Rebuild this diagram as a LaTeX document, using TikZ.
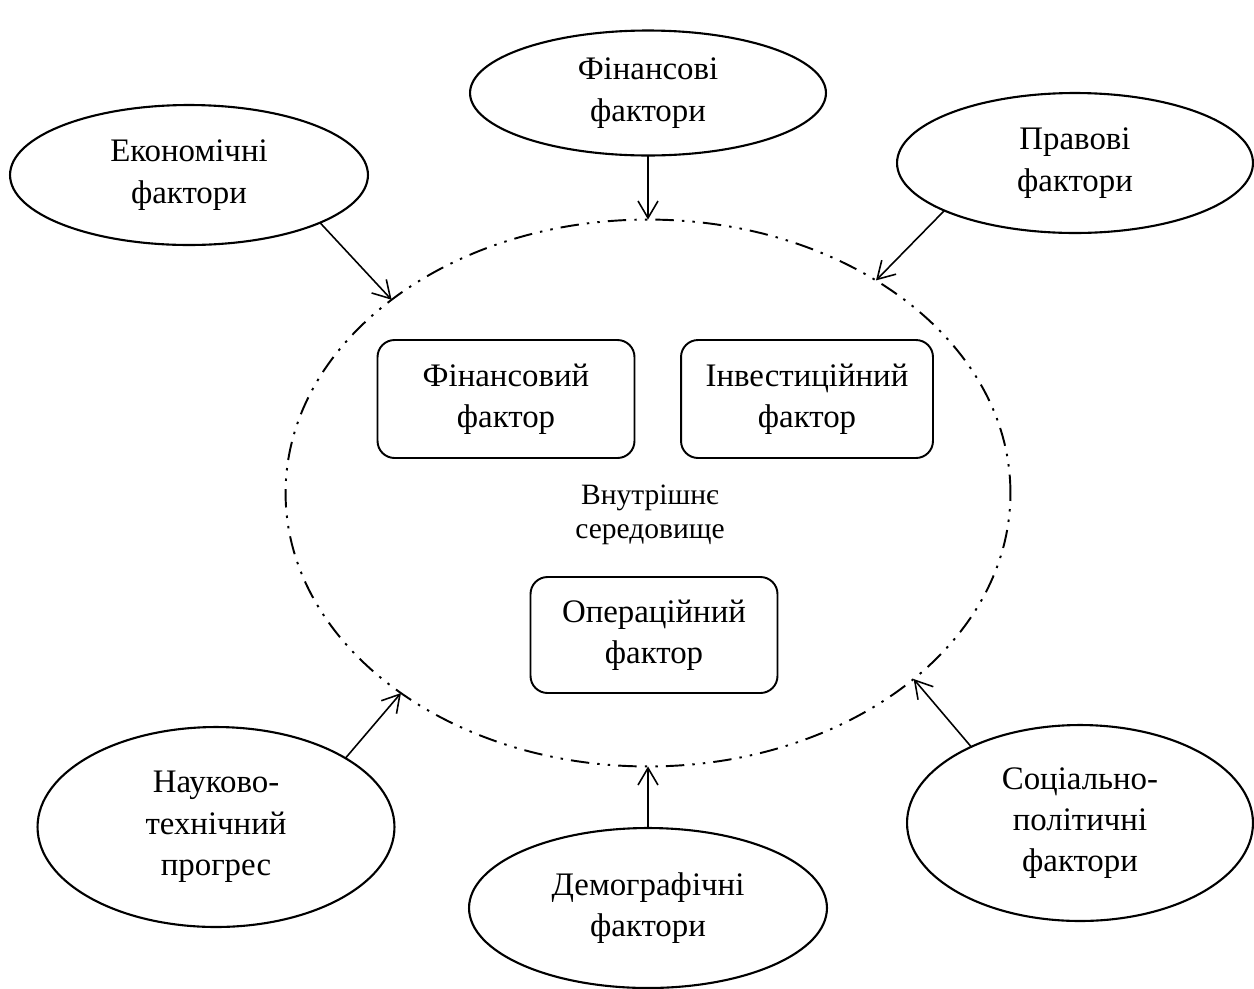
\documentclass[tikz,border=0pt]{standalone}
\usepackage{fontspec}
\setmainfont{Liberation Serif}
\usetikzlibrary{arrows.meta,shapes.geometric}
\tikzset{
  factor/.style={draw, ellipse, line width=1.2pt, inner sep=0pt, outer sep=0pt, align=center, font=\fontsize{18.7}{23.5}\selectfont},
  unit/.style={draw, rounded corners=0.34cm, line width=1.1pt, inner sep=0pt, outer sep=0pt, align=center, minimum height=2.36cm, font=\fontsize{18.7}{23.5}\selectfont},
  envline/.style={draw, ellipse, line width=1.1pt, inner sep=0pt, outer sep=0pt, dash pattern=on 10.5pt off 4.6pt on 1.4pt off 4.6pt on 1.4pt off 4.6pt},
  link/.style={->, line width=0.9pt}
}
\begin{document}
\begin{tikzpicture}[x=0.02cm, y=-0.02cm, >={Straight Barb[length=3.4mm,width=4mm]}]
  \useasboundingbox (0,0) rectangle (1254,988);
  % internal environment
  \node[envline, minimum width=14.5cm, minimum height=10.94cm] (inner) at (648,493) {};
  \node[align=center, font=\fontsize{16.8}{19.5}\selectfont] (env) at (650,515) {Внутрішнє\\середовище};
  \node[unit, minimum width=5.14cm] (finbox) at (506,399) {Фінансовий\\фактор};
  \node[unit, minimum width=5.04cm] (invbox) at (807,399) {Інвестиційний\\фактор};
  \node[unit, minimum width=4.94cm, minimum height=2.32cm] (opbox) at (654,635) {Операційний\\фактор};
  % external factors
  \foreach \n/\x/\y/\w/\h/\t in {
      fin/648/93/7.12/2.5/{Фінансові\\фактори},
      econ/189/175/7.16/2.8/{Економічні\\фактори},
      prav/1075/163/7.12/2.8/{Правові\\фактори},
      nauk/216/827/7.14/4.0/{Науково-\\технічний\\прогрес},
      demo/648/908/7.16/3.2/{Демографічні\\фактори},
      soc/1080/823/6.92/3.92/{Соціально-\\політичні\\фактори}}
    \node[factor, minimum width=\w cm, minimum height=\h cm] (\n) at (\x,\y) {\t};
  \foreach \a/\b in {econ.-20/inner.143, fin.south/inner.north, prav.200/inner.43,
      nauk.28/inner.219, demo.north/inner.south, soc.145/inner.-35}
    \draw[link] (\a) -- (\b);
\end{tikzpicture}
\end{document}
